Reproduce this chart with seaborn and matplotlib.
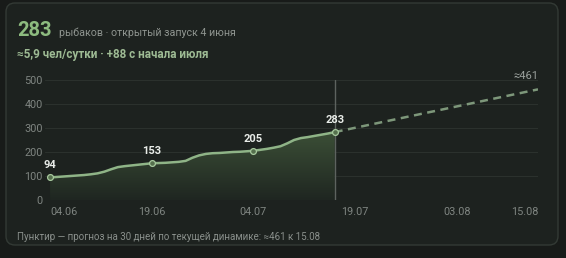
import numpy as np
import pandas as pd
import seaborn as sns
import matplotlib
matplotlib.use("Agg")
import matplotlib.pyplot as plt
from matplotlib.patches import FancyBboxPatch
from matplotlib.transforms import IdentityTransform
from matplotlib.colors import LinearSegmentedColormap

# ---- data ----
days = list(range(0, 43))  # days since 04.06
fishers = [94, 96, 98, 100, 102, 104, 107, 111, 118, 128, 137, 141, 144, 147, 150,
           153, 154, 155, 157, 159, 163, 176, 186, 192, 195, 196, 198, 200, 201, 203,
           205, 209, 213, 218, 224, 236, 250, 258, 262, 267, 272, 277, 283]
labeled_days = [0, 15, 30, 42]
forecast_days = [42, 72]
forecast_vals = [283, 461]
tick_days = [0, 15, 30, 45, 60, 72]
tick_labels = ["04.06", "19.06", "04.07", "19.07", "03.08", "15.08"]
y_ticks = [0, 100, 200, 300, 400, 500]

title_num = "283"
title_sub = "рыбаков · открытый запуск 4 июня"
subtitle2 = "≈5,9 чел/сутки · +88 с начала июля"
footer = "Пунктир — прогноз на 30 дней по текущей динамике: ≈461 к 15.08"

df = pd.DataFrame({"day": days, "n": fishers})

sns.set_theme(style="dark")
FONT = ["Roboto", "DejaVu Sans"]
plt.rcParams["font.family"] = FONT

W, H = 566, 258
fig = plt.figure(figsize=(W / 100, H / 100), dpi=100)
fig.patch.set_facecolor("#181b19")

card = FancyBboxPatch((6, 13), 552, 242, boxstyle="round,pad=0,rounding_size=9",
                      transform=IdentityTransform(), facecolor="#1d221f",
                      edgecolor="#333a35", linewidth=1.0, zorder=-5)
fig.patches.append(card)

x0_px, x1_px = 45, 538
y0_px, y1_px = 200, 80
xmin, xmax = -0.75, 72
ax = fig.add_axes([x0_px / W, 1 - y0_px / H, (x1_px - x0_px) / W, (y0_px - y1_px) / H])
ax.set_zorder(2)
ax.set_facecolor("none")
ax.patch.set_alpha(0)

# gridlines
ax.set_yticks(y_ticks)
ax.yaxis.grid(True, color="#2b312d", linewidth=0.8)
ax.xaxis.grid(False)
for s in ax.spines.values():
    s.set_visible(False)

# gradient fill under the curve
poly = ax.fill_between(df["day"], df["n"], 0, color="none", linewidth=0)
grad = np.linspace(0, 1, 256).reshape(-1, 1)
cmap = LinearSegmentedColormap.from_list("g", ["#1f2621", "#3c5037"])
im = ax.imshow(grad, extent=[0, 42, 0, 290], origin="lower", aspect="auto",
               cmap=cmap, zorder=1)
path = poly.get_paths()[0]
im.set_clip_path(path, transform=ax.transData)
ax.set_xlim(xmin, xmax)
ax.set_ylim(0, 500)

# vertical "today" line
ax.axvline(42, color="#5d635f", linewidth=1.0, zorder=2)

# main line
sns.lineplot(data=df, x="day", y="n", ax=ax, color="#8fb487", linewidth=1.8, zorder=4)

# forecast
sns.lineplot(x=forecast_days, y=forecast_vals, ax=ax, color="#7d977a", linewidth=1.8,
             linestyle=(0, (3.2, 2.2)), zorder=3)

# points + labels
for d in labeled_days:
    v = fishers[d]
    ax.plot([d], [v], marker="o", markersize=4.2, markerfacecolor="#55704d",
            markeredgecolor="#a7c99e", markeredgewidth=0.9, zorder=5)
    ax.annotate(str(v), (d, v), xytext=(0, 5), textcoords="offset points",
                ha="center", va="bottom", color="#e8ece8", fontsize=8,
                fontweight="bold", zorder=6)

ax.annotate("≈" + str(forecast_vals[-1]), (forecast_days[-1], forecast_vals[-1]),
            xytext=(0, 6), textcoords="offset points", ha="right", va="bottom",
            color="#9aa09c", fontsize=8, zorder=6)

# ticks
ax.set_xticks(tick_days)
ax.set_xticklabels(tick_labels)
lbls = ax.get_xticklabels()
lbls[0].set_ha("left")
lbls[-1].set_ha("right")
ax.tick_params(axis="x", length=0, pad=5, labelsize=7.8, labelcolor="#7f8581")
ax.tick_params(axis="y", length=0, pad=1.5, labelsize=7.8, labelcolor="#7f8581")
ax.set_xlabel("")
ax.set_ylabel("")

# header texts
fig.text(17 / W, 1 - 36 / H, title_num, color="#8dbb7f", fontsize=14.5,
         fontweight="bold", va="baseline", ha="left")
fig.text(59 / W, 1 - 36 / H, title_sub, color="#8f9590", fontsize=7.7,
         va="baseline", ha="left")
fig.text(17 / W, 1 - 58 / H, subtitle2, color="#9ebb94", fontsize=8.4,
         fontweight="bold", va="baseline", ha="left")
fig.text(17 / W, 1 - 240 / H, footer, color="#8a908c", fontsize=7.0,
         va="baseline", ha="left")

fig.savefig("out.png", dpi=100, facecolor=fig.get_facecolor())
